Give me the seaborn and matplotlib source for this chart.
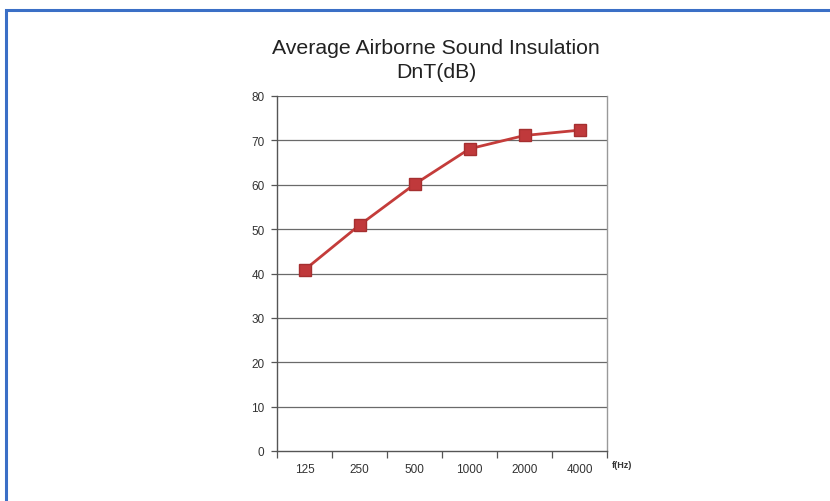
import matplotlib
matplotlib.use("Agg")
import matplotlib.pyplot as plt
import seaborn as sns
import pandas as pd
from matplotlib.patches import Rectangle
from matplotlib.ticker import FixedLocator, NullFormatter

frequencies = ["125", "250", "500", "1000", "2000", "4000"]
dnt_values = [40.8, 50.9, 60.1, 68.1, 71.1, 72.3]
y_ticks = [0, 10, 20, 30, 40, 50, 60, 70, 80]

sns.set_theme(style="white")
plt.rcParams["font.family"] = ["Liberation Sans", "DejaVu Sans"]

df = pd.DataFrame({"freq": frequencies, "dnt": dnt_values})

fig = plt.figure(figsize=(8.30, 5.02), dpi=100)
fig.patch.set_facecolor("white")

# Blue frame
fig.patches.append(Rectangle((6 / 830, -0.1), 1.2, 1 - 11 / 502 + 0.1,
                             transform=fig.transFigure, fill=False,
                             edgecolor="#3b6fc6", linewidth=2.2, zorder=0))

ax = fig.add_axes([277 / 830, 1 - 452 / 502, 330 / 830, 355 / 502])
ax.set_facecolor("white")

for yv in y_ticks[1:]:
    ax.axhline(yv, color="#6a6a6a", linewidth=0.9, zorder=1)

sns.lineplot(data=df, x="freq", y="dnt", ax=ax, color="#c43c3a", linewidth=2.0,
             marker="s", markersize=9, markerfacecolor="#c0393b",
             markeredgecolor="#a52f30", markeredgewidth=1.0, zorder=3)

ax.set_xlim(-0.5, 5.5)
ax.set_ylim(0, 80)
ax.set_yticks(y_ticks)
ax.set_yticklabels([str(v) for v in y_ticks], fontsize=8.5, color="#333333")
ax.set_xticks(range(len(frequencies)))
ax.set_xticklabels(frequencies, fontsize=8.5, color="#333333")
ax.xaxis.set_minor_locator(FixedLocator([i - 0.5 for i in range(len(frequencies) + 1)]))
ax.xaxis.set_minor_formatter(NullFormatter())
ax.tick_params(axis="x", which="major", length=0, pad=9)
ax.tick_params(axis="x", which="minor", length=5, width=0.9, color="#555555", direction="out", bottom=True)
ax.tick_params(axis="y", which="major", length=4, width=0.9, color="#555555", direction="out", left=True, pad=5)
ax.set_xlabel("")
ax.set_ylabel("")

for side in ["left", "bottom"]:
    ax.spines[side].set_color("#555555")
    ax.spines[side].set_linewidth(1.0)
ax.spines["right"].set_color("#999999")
ax.spines["right"].set_linewidth(1.0)
ax.spines["top"].set_visible(False)

fig.text(612 / 830, 1 - 466 / 502, "f(Hz)", fontsize=6.5, fontweight="bold",
         color="#333333", ha="left", va="center")

fig.text(436 / 830, 1 - 48 / 502, "Average Airborne Sound Insulation",
         fontsize=15.3, color="#222222", ha="center", va="center")
fig.text(436 / 830, 1 - 73 / 502, "DnT(dB)",
         fontsize=15.3, color="#222222", ha="center", va="center")

fig.savefig("out.png", dpi=100)
